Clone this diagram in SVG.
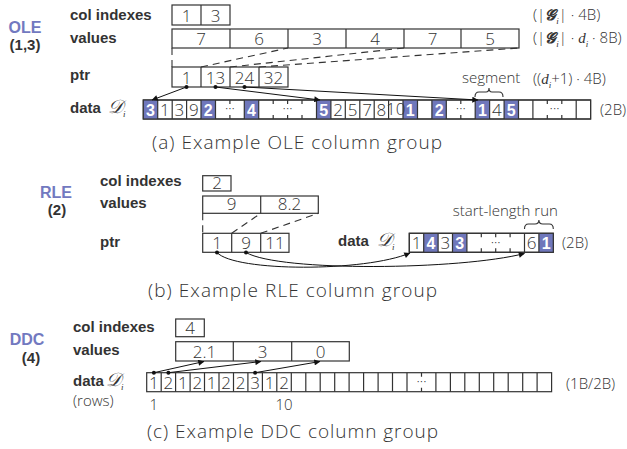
<svg xmlns="http://www.w3.org/2000/svg" width="627" height="449" viewBox="0 0 627 449">
<defs>
<marker id="ah" viewBox="0 0 10 10" refX="9.5" refY="5" markerWidth="8" markerHeight="6" markerUnits="userSpaceOnUse" orient="auto">
<path d="M0,0 L10,5 L0,10 z" fill="#111"/>
</marker>
<style>
.lbl{font-family:"Liberation Sans",Arial,sans-serif;font-weight:bold;font-size:15px;fill:#333}
.blbl{font-family:"Liberation Sans",Arial,sans-serif;font-weight:bold;font-size:16px;fill:#7279c0;text-anchor:middle}
.par{font-family:"Liberation Sans",Arial,sans-serif;font-weight:bold;font-size:15px;fill:#333;text-anchor:middle}
.num{font-family:"Open Sans","Liberation Sans",sans-serif;font-weight:300;font-size:17px;fill:#333;text-anchor:middle}
.wn{font-family:"Liberation Sans",Arial,sans-serif;font-weight:bold;font-size:16px;fill:#fff;text-anchor:middle}
.ann{font-family:"Open Sans","Liberation Sans",sans-serif;font-weight:300;font-size:15px;fill:#333}
.cap{font-family:"Open Sans","Liberation Sans",sans-serif;font-weight:300;font-size:19px;fill:#333}
.ell{font-family:"Liberation Sans",sans-serif;font-size:10px;fill:#333;text-anchor:middle}
.box{fill:#fff;stroke:#333;stroke-width:1.2}
.ln{stroke:#333;stroke-width:1.2;fill:none}
.bf{fill:#6f77bb}
.dash{stroke:#333;stroke-width:1.1;stroke-dasharray:7 5;fill:none}
.arr{stroke:#111;stroke-width:1;fill:none;marker-end:url(#ah)}
.dot{fill:#111}
.scr{font-family:"DejaVu Serif","DejaVu Sans",serif;font-style:italic;font-size:19px;fill:#333}
.sub{font-family:"Liberation Serif",serif;font-style:italic;font-size:9px}
.brace{stroke:#333;stroke-width:1.1;fill:none}
</style>
</defs>

<!-- ================= OLE ================= -->
<g id="ole-tag">
<text class="blbl" x="25" y="33">OLE</text>
<text class="par" x="25" y="50">(1,3)</text>
</g>
<g id="ole-colidx">
<text class="lbl" x="70" y="20">col indexes</text>
<rect class="box" x="172" y="5" width="58" height="20"/>
<line class="ln" x1="201" y1="5" x2="201" y2="25"/>
<text class="num" x="186.5" y="21.5">1</text>
<text class="num" x="215.5" y="21.5">3</text>
<text class="ann" x="533" y="20">(|<tspan font-family="DejaVu Sans" font-weight="bold" font-style="italic">𝓖</tspan><tspan class="sub" dy="4">i</tspan><tspan dy="-4">| · 4B)</tspan></text>
</g>
<g id="ole-values">
<text class="lbl" x="70" y="43">values</text>
<rect class="box" x="172" y="29" width="347" height="19"/>
<path class="ln" d="M230,29V48M288,29V48M346,29V48M404,29V48M461,29V48"/>
<text class="num" x="201" y="45">7</text>
<text class="num" x="259" y="45">6</text>
<text class="num" x="317" y="45">3</text>
<text class="num" x="375" y="45">4</text>
<text class="num" x="432.5" y="45">7</text>
<text class="num" x="490" y="45">5</text>
<text class="ann" x="533" y="43">(|<tspan font-family="DejaVu Sans" font-weight="bold" font-style="italic">𝓖</tspan><tspan class="sub" dy="4">i</tspan><tspan dy="-4">| · </tspan><tspan font-family="Liberation Serif" font-style="italic">d</tspan><tspan class="sub" dy="4">i</tspan><tspan dy="-4"> · 8B)</tspan></text>
</g>
<g id="ole-ptr">
<text class="lbl" x="70" y="80">ptr</text>
<rect class="box" x="172" y="67" width="116" height="20"/>
<path class="ln" d="M201,67V87M230,67V87M259,67V87"/>
<text class="num" x="186.5" y="83.5">1</text>
<text class="num" x="215.5" y="83.5">13</text>
<text class="num" x="244.5" y="83.5">24</text>
<text class="num" x="273.5" y="83.5">32</text>
<text class="ann" x="533" y="84">((<tspan font-family="Liberation Serif" font-style="italic">d</tspan><tspan class="sub" dy="4">i</tspan><tspan dy="-4">+1) · 4B)</tspan></text>
</g>
<g id="ole-data">
<text class="lbl" x="70" y="113">data</text>
<text class="scr" x="108" y="113">𝒟<tspan class="sub" font-size="10" dy="4">i</tspan></text>
<rect class="box" x="143.3" y="100" width="447.3" height="19"/>
<rect class="bf" x="143.3" y="100" width="14.4" height="19"/>
<rect class="bf" x="201.0" y="100" width="14.4" height="19"/>
<rect class="bf" x="244.3" y="100" width="14.4" height="19"/>
<rect class="bf" x="316.5" y="100" width="14.4" height="19"/>
<rect class="bf" x="403.0" y="100" width="14.4" height="19"/>
<rect class="bf" x="431.9" y="100" width="14.4" height="19"/>
<rect class="bf" x="475.2" y="100" width="14.4" height="19"/>
<rect class="bf" x="504.1" y="100" width="14.4" height="19"/>
<rect class="ln" x="143.3" y="100" width="447.3" height="19"/>
<path class="ln" d="M157.7,100V119M172.2,100V119M186.6,100V119M201.0,100V119M215.5,100V119M244.3,100V119M258.7,100V119M316.5,100V119M330.9,100V119M345.3,100V119M359.8,100V119M374.2,100V119M388.6,100V119M403.0,100V119M417.5,100V119M431.9,100V119M446.3,100V119M475.2,100V119M489.6,100V119M504.1,100V119M518.5,100V119M532.9,100V119M576.2,100V119"/>
<path class="ln" d="M229.9,100v4M229.9,119v-4M273.2,100v4M273.2,119v-4M287.6,100v4M287.6,119v-4M302.0,100v4M302.0,119v-4M460.8,100v4M460.8,119v-4M547.3,100v4M547.3,119v-4M561.8,100v4M561.8,119v-4"/>
<text class="wn" x="150.5" y="115.5">3</text>
<text class="num" x="164.9" y="115.5">1</text>
<text class="num" x="179.4" y="115.5">3</text>
<text class="num" x="193.8" y="115.5">9</text>
<text class="wn" x="208.2" y="115.5">2</text>
<text class="ell" x="229.9" y="112">···</text>
<text class="wn" x="251.5" y="115.5">4</text>
<text class="ell" x="287.6" y="112">···</text>
<text class="wn" x="323.7" y="115.5">5</text>
<text class="num" x="338.1" y="115.5">2</text>
<text class="num" x="352.5" y="115.5">5</text>
<text class="num" x="367.0" y="115.5">7</text>
<text class="num" x="381.4" y="115.5">8</text>
<text class="num" x="395.8" y="115" font-size="10">10</text>
<text class="wn" x="410.2" y="115.5">1</text>
<text class="wn" x="439.1" y="115.5">2</text>
<text class="ell" x="460.8" y="112">···</text>
<text class="wn" x="482.4" y="115.5">1</text>
<text class="num" x="496.8" y="115.5">4</text>
<text class="wn" x="511.3" y="115.5">5</text>
<text class="ell" x="554.6" y="112">···</text>
<text class="ann" x="600" y="115">(2B)</text>
</g>
<g id="ole-segment">
<text class="ann" x="462" y="83">segment</text>
<path class="brace" d="M475,97 Q475,92 479,92 L486,92 Q489,92 489,88 Q489,92 492,92 L499,92 Q503,92 503,97"/>
</g>
<text class="cap" x="152" y="149" textLength="290" lengthAdjust="spacing">(a) Example OLE column group</text>

<!-- ================= RLE ================= -->
<g id="rle-tag">
<text class="blbl" x="56" y="198">RLE</text>
<text class="par" x="57" y="215">(2)</text>
</g>
<g id="rle-colidx">
<text class="lbl" x="100" y="186">col indexes</text>
<rect class="box" x="202.7" y="175.7" width="28.3" height="15.3"/>
<text class="num" x="217" y="189">2</text>
</g>
<g id="rle-values">
<text class="lbl" x="100" y="208">values</text>
<rect class="box" x="202.7" y="196" width="115.6" height="17.3"/>
<line class="ln" x1="260.7" y1="196" x2="260.7" y2="213.3"/>
<text class="num" x="231.7" y="210">9</text>
<text class="num" x="289.5" y="210">8.2</text>
</g>
<g id="rle-ptr">
<text class="lbl" x="100" y="247">ptr</text>
<rect class="box" x="202.7" y="233.3" width="86.3" height="19"/>
<path class="ln" d="M231.7,233.3V252.3M260.7,233.3V252.3"/>
<text class="num" x="217" y="249">1</text>
<text class="num" x="246" y="249">9</text>
<text class="num" x="275" y="249">11</text>
</g>
<g id="rle-data">
<text class="lbl" x="338" y="246">data</text>
<text class="scr" x="377" y="246">𝒟<tspan class="sub" font-size="10" dy="4">i</tspan></text>
<rect class="box" x="409.3" y="233.3" width="144" height="19"/>
<rect class="bf" x="423.7" y="233.3" width="14.4" height="19"/>
<rect class="bf" x="452.5" y="233.3" width="14.4" height="19"/>
<rect class="bf" x="538.9" y="233.3" width="14.4" height="19"/>
<rect class="ln" x="409.3" y="233.3" width="144" height="19"/>
<path class="ln" d="M423.7,233.3V252.3M438.1,233.3V252.3M452.5,233.3V252.3M466.9,233.3V252.3M524.5,233.3V252.3M538.9,233.3V252.3"/>
<path class="ln" d="M481.3,233.3v4M481.3,252.3v-4M495.7,233.3v4M495.7,252.3v-4M510.1,233.3v4M510.1,252.3v-4"/>
<text class="num" x="416.5" y="249">1</text>
<text class="wn" x="430.9" y="249">4</text>
<text class="num" x="445.3" y="249">3</text>
<text class="wn" x="459.7" y="249">3</text>
<text class="ell" x="495.7" y="245.5">···</text>
<text class="num" x="531.7" y="249">6</text>
<text class="wn" x="546.1" y="249">1</text>
<text class="ann" x="562" y="248">(2B)</text>
</g>
<g id="rle-run">
<text class="ann" x="452.7" y="216">start-length run</text>
<path class="brace" d="M524.5,229 Q524.5,224 528.5,224 L535,224 Q538.9,224 538.9,220 Q538.9,224 542.8,224 L549.3,224 Q553.3,224 553.3,229"/>
</g>
<text class="cap" x="148" y="297" textLength="289" lengthAdjust="spacing">(b) Example RLE column group</text>

<!-- ================= DDC ================= -->
<g id="ddc-tag">
<text class="blbl" x="27" y="345">DDC</text>
<text class="par" x="31" y="363">(4)</text>
</g>
<g id="ddc-colidx">
<text class="lbl" x="73" y="332">col indexes</text>
<rect class="box" x="175.7" y="319" width="28.6" height="17.7"/>
<text class="num" x="190" y="334">4</text>
</g>
<g id="ddc-values">
<text class="lbl" x="73" y="355">values</text>
<rect class="box" x="175.7" y="341.7" width="173.6" height="19.3"/>
<path class="ln" d="M233.3,341.7V361M291.7,341.7V361"/>
<text class="num" x="204.5" y="358">2.1</text>
<text class="num" x="262.5" y="358">3</text>
<text class="num" x="320.5" y="358">0</text>
</g>
<g id="ddc-data">
<text class="lbl" x="73" y="386">data</text>
<text class="scr" x="106" y="386">𝒟<tspan class="sub" font-size="10" dy="4">i</tspan></text>
<text class="ann" x="73" y="406">(rows)</text>
<rect class="box" x="146.7" y="372.7" width="404.9" height="19"/>
<path class="ln" d="M161.2,372.7V391.7M175.6,372.7V391.7M190.1,372.7V391.7M204.5,372.7V391.7M219.0,372.7V391.7M233.5,372.7V391.7M247.9,372.7V391.7M262.4,372.7V391.7M276.8,372.7V391.7M291.3,372.7V391.7M305.8,372.7V391.7M320.2,372.7V391.7M334.7,372.7V391.7M349.1,372.7V391.7M363.6,372.7V391.7M378.1,372.7V391.7M392.5,372.7V391.7M407.0,372.7V391.7M435.9,372.7V391.7M450.4,372.7V391.7M464.8,372.7V391.7M479.3,372.7V391.7M493.7,372.7V391.7M508.2,372.7V391.7M522.7,372.7V391.7M537.1,372.7V391.7"/>
<path class="ln" d="M421.5,372.7v4M421.5,391.7v-4"/>
<text class="num" x="153.9" y="389">1</text>
<text class="num" x="168.4" y="389">2</text>
<text class="num" x="182.8" y="389">1</text>
<text class="num" x="197.3" y="389">2</text>
<text class="num" x="211.7" y="389">1</text>
<text class="num" x="226.2" y="389">2</text>
<text class="num" x="240.7" y="389">2</text>
<text class="num" x="255.1" y="389">3</text>
<text class="num" x="269.6" y="389">1</text>
<text class="num" x="284.0" y="389">2</text>
<text class="ell" x="421.5" y="385">···</text>
<text class="ann" x="153.9" y="409.5" font-size="13" text-anchor="middle">1</text>
<text class="ann" x="284" y="409.5" font-size="13" text-anchor="middle">10</text>
<text class="ann" x="566" y="389">(1B/2B)</text>
</g>
<text class="cap" x="147" y="438" textLength="291" lengthAdjust="spacing">(c) Example DDC column group</text>

<!-- ================= connectors ================= -->
<g id="connectors">
<path class="dash" d="M172,48V67M201,67L288,48M230,67L404,48M259,67L519,48"/>
<path class="dash" d="M202.7,213.3V233.3M231.7,233.3L260.7,213.3M260.7,233.3L318.3,213.3"/>
<circle class="dot" cx="186.5" cy="87" r="2"/>
<circle class="dot" cx="215.5" cy="87" r="2"/>
<circle class="dot" cx="244.5" cy="87" r="2"/>
<path class="arr" d="M186.5,87L152,100"/>
<path class="arr" d="M215.5,87L320,100"/>
<path class="arr" d="M244.5,87L478,100"/>
<circle class="dot" cx="217" cy="252.5" r="2"/>
<circle class="dot" cx="246" cy="252.5" r="2"/>
<path class="arr" d="M217,252.5C235,272 365,272 410,253"/>
<path class="arr" d="M246,252.5C280,272 460,270 524.5,253.5"/>
<circle class="dot" cx="153.9" cy="372.7" r="2"/>
<circle class="dot" cx="168.4" cy="372.7" r="2"/>
<circle class="dot" cx="255.1" cy="372.7" r="2"/>
<path class="arr" d="M153.9,372.7L204,361.5"/>
<path class="arr" d="M168.4,372.7L261,361.5"/>
<path class="arr" d="M255.1,372.7L320,361.5"/>
</g>
</svg>
